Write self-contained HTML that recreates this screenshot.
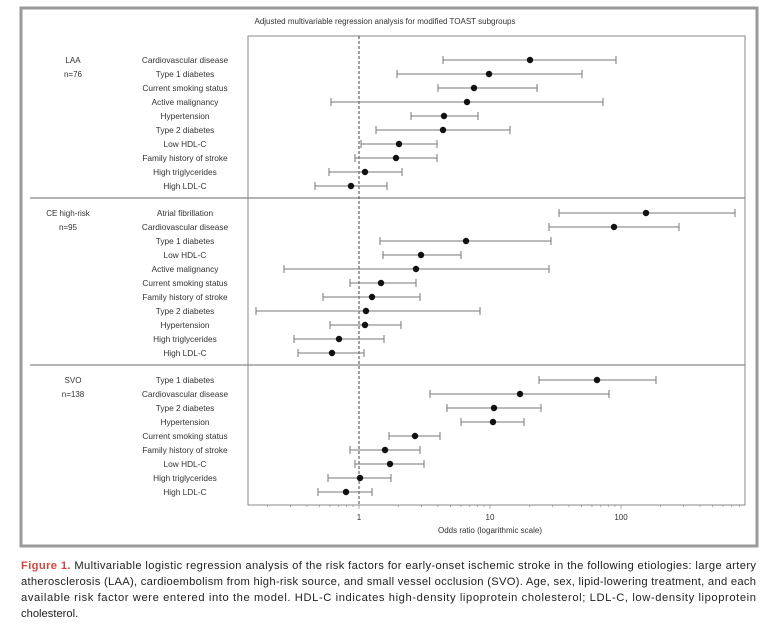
<!DOCTYPE html>
<html><head><meta charset="utf-8"><style>
html,body{margin:0;padding:0;background:#fff;}
svg{display:block;font-family:"Liberation Sans",sans-serif;}
</style></head><body>
<svg width="770" height="639" viewBox="0 0 770 639" xmlns="http://www.w3.org/2000/svg">
<rect x="21" y="8" width="736" height="538" fill="#fff" stroke="#9a9a9a" stroke-width="3"/>
<text x="385" y="24" font-size="8" text-anchor="middle" fill="#333">Adjusted multivariable regression analysis for modified TOAST subgroups</text>
<rect x="248" y="36" width="497" height="469" fill="none" stroke="#888" stroke-width="1"/>
<line x1="30" y1="198" x2="745" y2="198" stroke="#888" stroke-width="1.2"/>
<line x1="30" y1="365" x2="745" y2="365" stroke="#888" stroke-width="1.2"/>
<line x1="359" y1="36" x2="359" y2="505" stroke="#444" stroke-width="1" stroke-dasharray="3,2"/>
<g id="ticks" stroke="#999" stroke-width="0.8"></g>
<g font-size="8" fill="#333" text-anchor="middle">
<text x="359" y="520">1</text><text x="490" y="520">10</text><text x="621" y="520">100</text>
<text x="490" y="533">Odds ratio (logarithmic scale)</text>
<text x="73" y="63">LAA</text><text x="73" y="77">n=76</text>
<text x="68" y="216">CE high-risk</text><text x="68" y="230">n=95</text>
<text x="73" y="383">SVO</text><text x="73" y="397">n=138</text>
</g>
<g id="rows" font-size="8.3" fill="#333" text-anchor="middle"></g>
<g font-size="11.2" fill="#222">
<text x="21" y="569" textLength="735" lengthAdjust="spacing"><tspan fill="#d4473f" font-weight="bold">Figure 1.</tspan> Multivariable logistic regression analysis of the risk factors for early-onset ischemic stroke in the following etiologies: large artery</text>
<text x="21" y="585" textLength="735" lengthAdjust="spacing">atherosclerosis (LAA), cardioembolism from high-risk source, and small vessel occlusion (SVO). Age, sex, lipid-lowering treatment, and each</text>
<text x="21" y="601" textLength="735" lengthAdjust="spacing">available risk factor were entered into the model. HDL-C indicates high-density lipoprotein cholesterol; LDL-C, low-density lipoprotein</text>
<text x="21" y="617">cholesterol.</text>
</g>
</svg>
<script>
var ns="http://www.w3.org/2000/svg";
function el(t,a,p,txt){var e=document.createElementNS(ns,t);for(var k in a)e.setAttribute(k,a[k]);if(txt)e.textContent=txt;p.appendChild(e);return e;}
var tg=document.getElementById('ticks');
for(var d=-1;d<=2;d++)for(var m=1;m<=9;m++){var v=m*Math.pow(10,d);var x=359+131*Math.log10(v);if(x<249||x>744)continue;el('line',{x1:x,y1:505,x2:x,y2:m==1?509:507},tg);}
var rows=[
["Cardiovascular disease",530,443,616],["Type 1 diabetes",489,397,582],["Current smoking status",474,438,537],["Active malignancy",467,331,603],["Hypertension",444,411,478],["Type 2 diabetes",443,376,510],["Low HDL-C",399,361,437],["Family history of stroke",396,355,437],["High triglycerides",365,329,402],["High LDL-C",351,315,387],
null,
["Atrial fibrillation",646,559,735],["Cardiovascular disease",614,549,679],["Type 1 diabetes",466,380,551],["Low HDL-C",421,383,461],["Active malignancy",416,284,549],["Current smoking status",381,350,416],["Family history of stroke",372,323,420],["Type 2 diabetes",366,256,480],["Hypertension",365,330,401],["High triglycerides",339,294,384],["High LDL-C",332,298,364],
null,
["Type 1 diabetes",597,539,656],["Cardiovascular disease",520,430,609],["Type 2 diabetes",494,447,541],["Hypertension",493,461,524],["Current smoking status",415,389,440],["Family history of stroke",385,350,420],["Low HDL-C",390,355,424],["High triglycerides",360,328,391],["High LDL-C",346,318,372]];
var rg=document.getElementById('rows');var starts=[60,213,380];var g=0,i=0;
rows.forEach(function(r){if(!r){g++;i=0;return;}var y=starts[g]+14*i;i++;
el('text',{x:185,y:y+3},rg,r[0]);
el('line',{x1:r[2],y1:y,x2:r[3],y2:y,stroke:'#777','stroke-width':1},rg);
el('line',{x1:r[2],y1:y-4,x2:r[2],y2:y+4,stroke:'#777','stroke-width':1},rg);
el('line',{x1:r[3],y1:y-4,x2:r[3],y2:y+4,stroke:'#777','stroke-width':1},rg);
el('circle',{cx:r[1],cy:y,r:3.2,fill:'#111'},rg);});
</script>
</body></html>
